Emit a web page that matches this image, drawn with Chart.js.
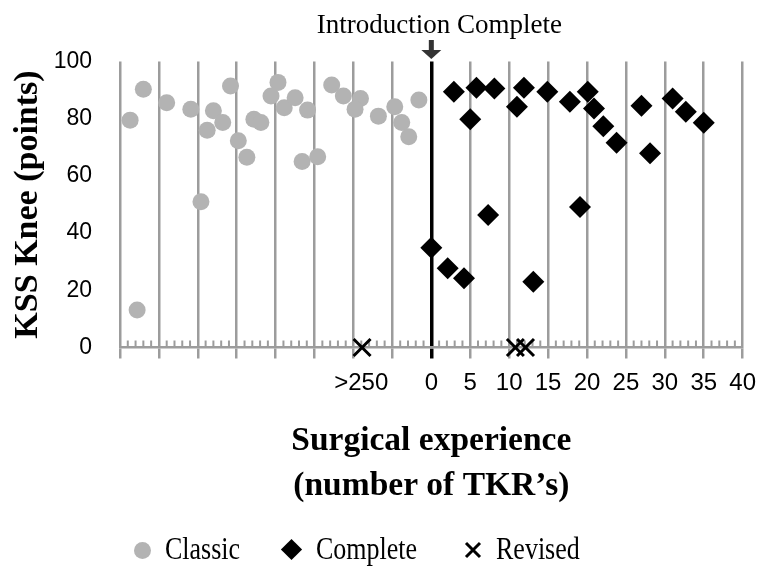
<!DOCTYPE html>
<html>
<head>
<meta charset="utf-8">
<script src="https://cdn.jsdelivr.net/npm/chart.js@4.4.1/dist/chart.umd.min.js"></script>
<style>
  body{margin:0;background:#fff}
  .wrap{position:relative;width:766px;height:569px}
  .lg{position:absolute;font:26px "Liberation Serif","Times New Roman",serif;color:#000;line-height:30px;top:535px;transform:scaleY(1.18);transform-origin:50% 50%}
  .dot{position:absolute;width:17px;height:17px;border-radius:50%;background:#b3b3b3;left:134px;top:542px}
  .dia{position:absolute;width:15px;height:15px;background:#000;transform:rotate(45deg);left:284px;top:542px}
  .crs{position:absolute;left:464px;top:541px}
</style>
</head>
<body>
<div class="wrap">
  <canvas id="c" width="766" height="569"></canvas>
  <span class="dot"></span><span class="lg" style="left:165px">Classic</span>
  <span class="dia"></span><span class="lg" style="left:316px">Complete</span>
  <svg class="crs" width="18" height="18"><path d="M2 2L16 16M16 2L2 16" stroke="#000" stroke-width="3"/></svg><span class="lg" style="left:496px">Revised</span>
</div>
<script>
// Classic: before the introduction (negative x = earlier cases)
const classicX = [-38.7,-37.0,-34.0,-30.9,-28.0,-26.8,-28.8,-25.8,-24.8,-23.7,-22.8,-21.9,-19.7,-20.6,-18.9,-17.5,-15.9,-16.6,-14.6,-12.8,-11.3,-9.1,-9.8,-6.8,-4.7,-3.8,-2.9,-1.6,-29.6,-37.8];
const classicY = [79.5,90.3,85.6,83.3,82.8,78.7,76.0,91.4,72.3,66.5,79.8,78.7,92.7,87.9,83.8,87.3,83.0,65.0,66.7,91.8,87.9,87.1,83.3,80.9,84.2,78.7,73.7,86.5,51.0,13.1];
const completeX = [2.9,5.8,8.1,5.0,11.9,11.0,14.9,17.8,20.1,20.9,22.1,23.8,27.0,28.1,31.0,32.7,35.0,19.1,7.3,0,2.1,4.2,13.1];
const completeY = [89.4,90.8,90.6,79.8,90.8,84.2,89.4,85.9,89.4,83.6,77.4,71.6,84.5,67.9,87.1,82.4,78.6,49.1,46.3,34.9,27.7,24.2,23.0];
const revisedX = [-8.9,10.8,12.1];
const revisedY = [0,0,0];

const gridValues = [-40,-35,-30,-25,-20,-15,-10,-5,0,5,10,15,20,25,30,35,40];
const tickValues = [-9,0,5,10,15,20,25,30,35,40];
const tickLabels = ['>250','0','5','10','15','20','25','30','35','40'];

const pts = (xs, ys) => xs.map((x, i) => ({x, y: ys[i]}));
const GRID = '#9c9c9c';
const SANS = '"Liberation Sans",Arial,sans-serif';
const SERIF = '"Liberation Serif","Times New Roman",serif';

const extras = {
  id: 'extras',
  beforeDatasetsDraw(chart){
    const {ctx, scales:{x, y}} = chart;
    const y0 = y.getPixelForValue(0);
    ctx.save();
    ctx.strokeStyle = GRID; ctx.lineWidth = 2;
    for (let v = x.min; v <= x.max; v++) {
      if (v % 5 === 0) continue;
      const px = x.getPixelForValue(v);
      ctx.beginPath(); ctx.moveTo(px, y0); ctx.lineTo(px, y0 - 7); ctx.stroke();
    }
    ctx.restore();
  },
  afterDraw(chart){
    const {ctx, scales:{x}} = chart;
    const x0 = x.getPixelForValue(0);
    ctx.save();
    ctx.fillStyle = '#333';
    ctx.fillRect(x0 - 2.5, 40, 5, 10);
    ctx.beginPath(); ctx.moveTo(x0 - 10, 50); ctx.lineTo(x0 + 10, 50); ctx.lineTo(x0, 59); ctx.closePath(); ctx.fill();
    ctx.fillStyle = '#000';
    ctx.font = '27px ' + SERIF;
    ctx.textAlign = 'center'; ctx.textBaseline = 'alphabetic';
    ctx.fillText('Introduction Complete', x0 + 8, 33);
    ctx.restore();
  }
};

new Chart(document.getElementById('c'), {
  type: 'scatter',
  data: {
    datasets: [
      { label:'Classic', data: pts(classicX, classicY), pointStyle:'circle', pointRadius:8.5, backgroundColor:'#b3b3b3', borderWidth:0, clip:false },
      { label:'Complete', data: pts(completeX, completeY), pointStyle:'rectRot', pointRadius:11, backgroundColor:'#000', borderWidth:0, clip:false },
      { label:'Revised', data: pts(revisedX, revisedY), pointStyle:'crossRot', pointRadius:12, borderColor:'#000', borderWidth:3, clip:false }
    ]
  },
  options: {
    responsive:false, animation:false, devicePixelRatio:1,
    layout:{ padding:{ top:61.5, right:14, bottom:60, left:0 } },
    plugins:{ legend:{display:false}, tooltip:{enabled:false} },
    scales:{
      x:{
        type:'linear', min:-40, max:40,
        afterFit(s){ s.height = 161.5; },
        afterBuildTicks(s){
          s.ticks = [...new Set([...gridValues, ...tickValues])].sort((a,b)=>a-b).map(v => ({value:v}));
        },
        border:{ color:GRID, width:2.5 },
        grid:{
          color: c => c.tick && c.tick.value === 0 ? '#000' : (c.tick && c.tick.value === -9 ? 'rgba(0,0,0,0)' : GRID),
          tickColor: c => c.tick && c.tick.value === 0 ? '#000' : (c.tick && c.tick.value === -9 ? 'rgba(0,0,0,0)' : GRID),
          lineWidth: c => c.tick && c.tick.value === 0 ? 3.5 : 2.5,
          tickWidth: c => c.tick && c.tick.value === 0 ? 3.5 : 2.5,
          tickLength:11
        },
        ticks:{
          autoSkip:false, maxRotation:0, padding:10, color:'#000',
          font:{ family:SANS, size:24 },
          callback: v => { const i = tickValues.indexOf(v); return i >= 0 ? tickLabels[i] : ''; }
        },
        title:{
          display:true, text:['Surgical experience','(number of TKR\u2019s)'], color:'#000',
          font:{ family:SERIF, size:33.5, weight:'bold', lineHeight:1.35 },
          padding:{ top:0, bottom:0 }
        }
      },
      y:{
        min:0, max:100,
        afterFit(s){ s.width = 120; },
        border:{ display:false },
        grid:{ display:false, drawTicks:false },
        ticks:{ stepSize:20, padding:28, color:'#000', font:{ family:SANS, size:23 } },
        title:{
          display:true, text:'KSS Knee (points)', color:'#000',
          font:{ family:SERIF, size:34, weight:'bold', lineHeight:1.2 },
          padding:{ top:8, bottom:0 }
        }
      }
    }
  },
  plugins:[extras]
});
</script>
</body>
</html>
